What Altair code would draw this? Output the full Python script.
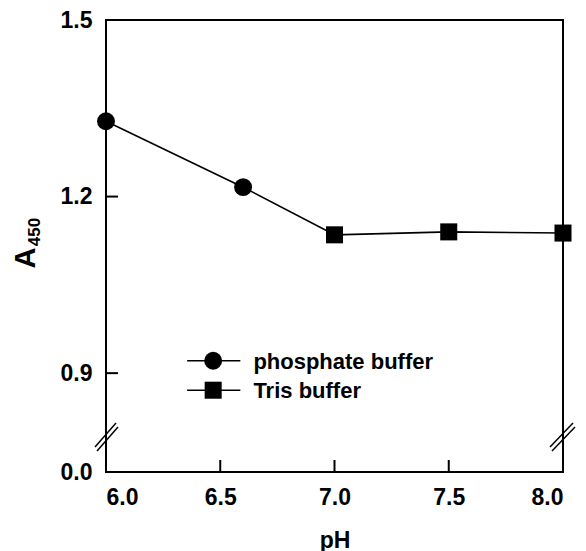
import altair as alt
import pandas as pd

# ---- data ----
ph_phosphate = [6.0, 6.6, 7.0]
a_phosphate = [1.328, 1.216, 1.135]
ph_tris = [7.0, 7.5, 8.0]
a_tris = [1.135, 1.140, 1.138]
x_tick_labels = [6.0, 6.5, 7.0, 7.5, 8.0]
y_tick_labels = [0.0, 0.9, 1.2, 1.5]
inner_x_ticks = [6.5, 7.0, 7.5]
inner_y_ticks = [0.9, 1.2]
legend_labels = ["phosphate buffer", "Tris buffer"]
legend_shapes = ["circle", "square"]
legend_rows = [0.921, 0.871]

W, H = 457, 452
FONT = "Liberation Sans"

df = pd.DataFrame({
    "pH": ph_phosphate + ph_tris,
    "A": a_phosphate + a_tris,
    "buffer": ["phosphate"] * len(ph_phosphate) + ["Tris"] * len(ph_tris),
})

xs = alt.Scale(domain=[6.0, 8.0], nice=False, zero=False)
ys = alt.Scale(domain=[0.0, 0.8, 1.5], range=[H, 412, 0], nice=False, zero=False)

x_enc = alt.X("pH:Q", scale=xs, axis=alt.Axis(
    values=x_tick_labels, format=".1f", ticks=False, domain=False, grid=False,
    labelFontSize=23, labelFontWeight="bold", labelColor="black", labelFont=FONT,
    labelPadding=14, title="pH", titleFontSize=23, titleFontWeight="bold",
    titleFont=FONT, titleColor="black", titlePadding=20))
y_enc = alt.Y("A:Q", scale=ys, axis=alt.Axis(
    values=y_tick_labels, format=".1f", ticks=False, domain=False, grid=False,
    labelFontSize=23, labelFontWeight="bold", labelColor="black", labelFont=FONT,
    labelPadding=14, title=""))

lines = alt.Chart(df).mark_line(color="black", strokeWidth=1.6).encode(
    x=x_enc, y=y_enc, detail="buffer:N")

circles = alt.Chart(df).transform_filter(
    (alt.datum.buffer == "phosphate") & (alt.datum.pH < 7.0)
).mark_point(shape="circle", filled=True, color="black", size=320, opacity=1).encode(
    x="pH:Q", y="A:Q")

squares = alt.Chart(df).transform_filter(alt.datum.buffer == "Tris").mark_point(
    shape="square", filled=True, color="black", size=290, opacity=1).encode(
    x="pH:Q", y="A:Q")

# inward ticks
xt = alt.Chart(pd.DataFrame({"t": inner_x_ticks})).mark_rule(color="black", strokeWidth=2).encode(
    x="t:Q", y=alt.value(H), y2=alt.value(H - 12))
yt = alt.Chart(pd.DataFrame({"t": inner_y_ticks})).mark_rule(color="black", strokeWidth=2).encode(
    y="t:Q", x=alt.value(0), x2=alt.value(12))

# axis break marks
brk = pd.DataFrame({
    "x1": [-11, -9, W - 13, W - 11],
    "y1": [427, 431, 427, 431],
    "x2": [10, 12, W + 10, W + 12],
    "y2": [403, 407, 403, 407],
})
breaks = alt.Chart(brk).mark_rule(color="black", strokeWidth=1.5).encode(
    x=alt.X("x1:Q", scale=None), y=alt.Y("y1:Q", scale=None),
    x2="x2:Q", y2="y2:Q")

# legend (in data coordinates)
leg = pd.DataFrame({"label": legend_labels, "shape": legend_shapes, "row": legend_rows,
                    "x0": [6.355] * 2, "x1": [6.588] * 2, "xm": [6.469] * 2, "xt": [6.645] * 2})
leg_line = alt.Chart(leg).mark_rule(color="black", strokeWidth=1.6).encode(
    x="x0:Q", x2="x1:Q", y="row:Q")
leg_c = alt.Chart(leg).transform_filter(alt.datum.shape == "circle").mark_point(
    shape="circle", filled=True, color="black", size=320, opacity=1).encode(x="xm:Q", y="row:Q")
leg_s = alt.Chart(leg).transform_filter(alt.datum.shape == "square").mark_point(
    shape="square", filled=True, color="black", size=290, opacity=1).encode(x="xm:Q", y="row:Q")
leg_t = alt.Chart(leg).mark_text(align="left", baseline="middle", fontSize=22,
                                 fontWeight="bold", font=FONT, color="black", dy=1).encode(
    x="xt:Q", y="row:Q", text="label:N")

# y-axis title with subscript
ytitle_a = alt.Chart(pd.DataFrame({"s": ["A"]})).mark_text(
    angle=270, align="center", baseline="middle", fontSize=29, fontWeight="bold",
    font=FONT, color="black").encode(x=alt.value(-80), y=alt.value(238), text="s:N")
ytitle_sub = alt.Chart(pd.DataFrame({"s": ["450"]})).mark_text(
    angle=270, align="center", baseline="middle", fontSize=17, fontWeight="bold",
    font=FONT, color="black").encode(x=alt.value(-71), y=alt.value(212), text="s:N")

chart = alt.layer(
    lines, xt, yt, circles, squares, leg_line, leg_c, leg_s, leg_t, breaks, ytitle_a, ytitle_sub
).properties(
    width=W, height=H,
    padding={"left": 98, "top": 12, "right": 15, "bottom": 80},
    autosize=alt.AutoSizeParams(type="none"),
).configure(background="white").configure_view(stroke="black", strokeWidth=2)

chart.save("out.html", embed_options={"renderer": "svg", "actions": False})
